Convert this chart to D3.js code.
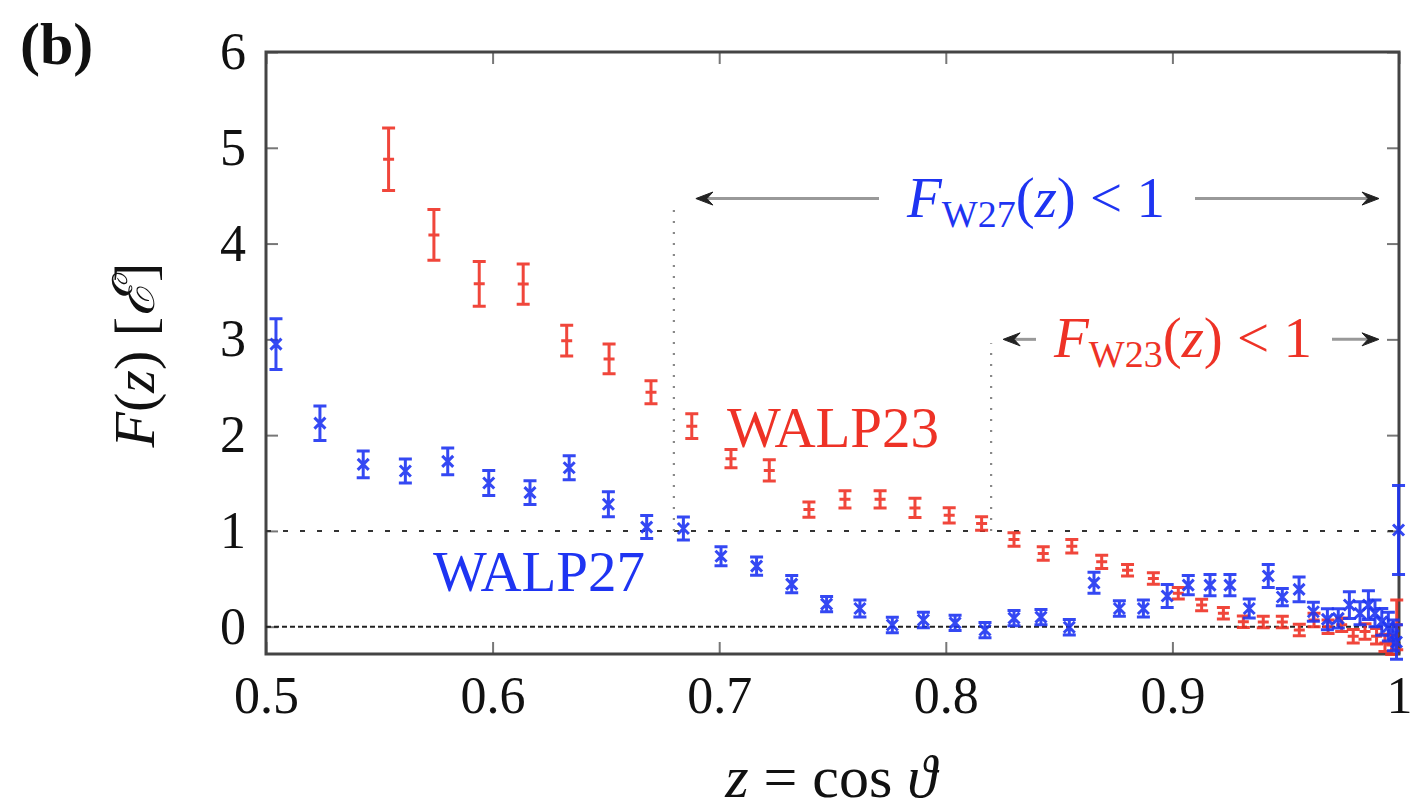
<!DOCTYPE html>
<html>
<head>
<meta charset="utf-8">
<script src="https://cdn.jsdelivr.net/npm/d3@7"></script>
<style>
  html, body { margin: 0; padding: 0; background: #fff; }
  svg { display: block; }
  text { font-family: "Liberation Serif", "DejaVu Serif", serif; }
</style>
</head>
<body>
<svg id="chart" width="1416" height="809"></svg>
<script>
// F(z) for WALP23 and WALP27: z values, means and error half-widths
const walp27Z = [0.5044, 0.5238, 0.5429, 0.5615, 0.5802, 0.5983, 0.6165, 0.6338, 0.6511, 0.6680,
  0.6842, 0.7008, 0.7165, 0.7320, 0.7474, 0.7621, 0.7764, 0.7901, 0.8041, 0.8173,
  0.8301, 0.8420, 0.8545, 0.8654, 0.8766, 0.8872, 0.8977, 0.9070, 0.9166, 0.9254,
  0.9339, 0.9423, 0.9485, 0.9559, 0.9622, 0.9684, 0.9732, 0.9781, 0.9828, 0.9865,
  0.9894, 0.9924, 0.9953, 0.9975, 0.9989, 0.9998];
const walp27F = [2.95, 2.125, 1.695, 1.625, 1.726, 1.50, 1.40, 1.66, 1.278, 1.04,
  1.025, 0.736, 0.632, 0.445, 0.236, 0.19, 0.018, 0.07, 0.04, -0.035,
  0.09, 0.10, -0.006, 0.458, 0.19, 0.19, 0.32, 0.434, 0.434, 0.434,
  0.19, 0.53, 0.31, 0.39, 0.156, 0.077, 0.087, 0.226, 0.14, 0.226,
  0.14, 0.05, 0.0, -0.09, -0.16, 1.01];
const walp27Err = [0.265, 0.18, 0.14, 0.125, 0.14, 0.13, 0.125, 0.125, 0.13, 0.12,
  0.12, 0.10, 0.095, 0.09, 0.08, 0.09, 0.08, 0.08, 0.08, 0.08,
  0.08, 0.08, 0.08, 0.11, 0.08, 0.09, 0.12, 0.10, 0.11, 0.11,
  0.10, 0.12, 0.09, 0.13, 0.10, 0.11, 0.10, 0.14, 0.12, 0.15,
  0.14, 0.14, 0.15, 0.16, 0.18, 0.465];

const walp23Z = [0.5541, 0.5741, 0.5941, 0.6135, 0.6327, 0.6514, 0.6699, 0.6879, 0.7052, 0.7221,
  0.7396, 0.7555, 0.7710, 0.7864, 0.8015, 0.8158, 0.8301, 0.8430, 0.8556, 0.8688,
  0.8802, 0.8916, 0.9026, 0.9129, 0.9225, 0.9313, 0.9401, 0.9485, 0.9560, 0.9625,
  0.9687, 0.9747, 0.9798, 0.9850, 0.9901, 0.9938, 0.9968, 0.9990];
const walp23F = [4.88, 4.09, 3.58, 3.577, 2.986, 2.796, 2.448, 2.094, 1.754, 1.632,
  1.223, 1.33, 1.33, 1.24, 1.163, 1.077, 0.91, 0.765, 0.84, 0.677,
  0.59, 0.504, 0.348, 0.226, 0.14, 0.052, 0.05, 0.05, -0.035, 0.07,
  0.0, 0.02, -0.1, -0.05, -0.1, -0.17, -0.19, 0.02];
const walp23Err = [0.326, 0.265, 0.234, 0.21, 0.16, 0.156, 0.12, 0.13, 0.095, 0.11,
  0.08, 0.09, 0.09, 0.10, 0.08, 0.07, 0.07, 0.07, 0.07, 0.07,
  0.06, 0.06, 0.06, 0.06, 0.06, 0.06, 0.06, 0.06, 0.06, 0.07,
  0.07, 0.07, 0.07, 0.08, 0.08, 0.09, 0.10, 0.26];

const xTicks = [0.5, 0.6, 0.7, 0.8, 0.9, 1.0];
const xTickLabels = ["0.5", "0.6", "0.7", "0.8", "0.9", "1"];
const yTicks = [0, 1, 2, 3, 4, 5, 6];
const yTickLabels = ["0", "1", "2", "3", "4", "5", "6"];

// cut-off annotations: where F first stays below 1, and the height of the arrow
const cutW27 = 0.680, arrowW27 = 4.47;
const cutW23 = 0.820, arrowW23 = 3.0;

const RED = "#ee3226";
const BLUE = "#1e34f2";

const svg = d3.select("#chart");
const x = d3.scaleLinear().domain([0.5, 1.0]).range([266, 1399]);
const y = d3.scaleLinear().domain([-0.285, 6.0]).range([654, 52]);

// frame and inward ticks (drawn first so the data sits on top of the border)
const tick = 12;
const styleTicks = g => {
  g.select(".domain").remove();
  g.selectAll(".tick line").attr("stroke", "#777").attr("stroke-width", 2);
  g.selectAll(".tick text").attr("font-size", 52).attr("fill", "#111")
    .attr("font-family", "Liberation Serif");
};
svg.append("g").attr("transform", `translate(0,${y(-0.285)})`)
  .call(d3.axisBottom(x).tickValues(xTicks).tickSizeInner(-tick).tickSizeOuter(0)
    .tickFormat((d, i) => xTickLabels[i]).tickPadding(22))
  .call(styleTicks);
svg.append("g").attr("transform", `translate(0,${y(6)})`)
  .call(d3.axisTop(x).tickValues(xTicks).tickSizeInner(-tick).tickSizeOuter(0).tickFormat(""))
  .call(styleTicks);
svg.append("g").attr("transform", `translate(${x(0.5)},0)`)
  .call(d3.axisLeft(y).tickValues(yTicks).tickSizeInner(-tick).tickSizeOuter(0)
    .tickFormat((d, i) => yTickLabels[i]).tickPadding(20))
  .call(styleTicks);
svg.append("g").attr("transform", `translate(${x(1)},0)`)
  .call(d3.axisRight(y).tickValues(yTicks).tickSizeInner(-tick).tickSizeOuter(0).tickFormat(""))
  .call(styleTicks);
svg.append("rect")
  .attr("x", x(0.5)).attr("y", y(6))
  .attr("width", x(1) - x(0.5)).attr("height", y(-0.285) - y(6))
  .attr("fill", "none").attr("stroke", "#444").attr("stroke-width", 3);

// reference lines at F = 1 and F = 0
svg.append("line")
  .attr("x1", x(0.5)).attr("x2", x(1)).attr("y1", y(1)).attr("y2", y(1))
  .attr("stroke", "#333").attr("stroke-width", 2).attr("stroke-dasharray", "5,12");
svg.append("line")
  .attr("x1", x(0.5)).attr("x2", x(1)).attr("y1", y(0)).attr("y2", y(0))
  .attr("stroke", "#222").attr("stroke-width", 2).attr("stroke-dasharray", "5,3");

// dotted verticals marking the cut-offs
[[cutW27, arrowW27], [cutW23, arrowW23]].forEach(([zc, top]) => {
  svg.append("line")
    .attr("x1", x(zc)).attr("x2", x(zc)).attr("y1", y(1)).attr("y2", y(top) + 4)
    .attr("stroke", "#888").attr("stroke-width", 2.2).attr("stroke-dasharray", "2,9");
});

// error-bar series
function drawSeries(zs, fs, es, color, marker) {
  const g = svg.append("g").attr("stroke", color).attr("stroke-width", 3).attr("fill", "none")
    .attr("stroke-opacity", 0.9);
  const cap = 6.5;
  zs.forEach((z, i) => {
    const cx = x(z), cy = y(fs[i]);
    const yt = y(fs[i] + es[i]), yb = y(fs[i] - es[i]);
    const p = d3.path();
    p.moveTo(cx, yt); p.lineTo(cx, yb);
    p.moveTo(cx - cap, yt); p.lineTo(cx + cap, yt);
    p.moveTo(cx - cap, yb); p.lineTo(cx + cap, yb);
    const m = 5.5;
    if (marker === "x") {
      p.moveTo(cx - m, cy - m); p.lineTo(cx + m, cy + m);
      p.moveTo(cx - m, cy + m); p.lineTo(cx + m, cy - m);
    } else {
      p.moveTo(cx - m, cy); p.lineTo(cx + m, cy);
    }
    g.append("path").attr("d", p.toString());
  });
}
drawSeries(walp23Z, walp23F, walp23Err, RED, "+");
drawSeries(walp27Z, walp27F, walp27Err, BLUE, "x");

// arrows with the F(z) < 1 labels
function arrowHead(px, py, dir) {
  const p = d3.path();
  p.moveTo(px, py);
  p.lineTo(px - dir * 17, py - 6.5);
  p.lineTo(px - dir * 11, py);
  p.lineTo(px - dir * 17, py + 6.5);
  p.closePath();
  svg.append("path").attr("d", p.toString()).attr("fill", "#222").attr("stroke", "#222")
    .attr("stroke-width", 1);
}
function rangeArrow(x0, x1, yy, gapL, gapR) {
  svg.append("line").attr("x1", x0 + 4).attr("x2", gapL).attr("y1", yy).attr("y2", yy)
    .attr("stroke", "#999").attr("stroke-width", 3);
  svg.append("line").attr("x1", gapR).attr("x2", x1 - 4).attr("y1", yy).attr("y2", yy)
    .attr("stroke", "#999").attr("stroke-width", 3);
  arrowHead(x0, yy, -1);
  arrowHead(x1, yy, 1);
}
rangeArrow(x(cutW27) + 22, x(1) - 20, y(arrowW27), 879, 1195);
rangeArrow(x(cutW23) + 12, x(1) - 20, y(arrowW23), 1036, 1332);

function condLabel(cx, baseY, sub, color) {
  const t = svg.append("text").attr("x", cx).attr("y", baseY)
    .attr("text-anchor", "middle").attr("font-size", 57).attr("fill", color);
  t.append("tspan").attr("font-style", "italic").text("F");
  t.append("tspan").attr("font-size", 38).attr("dy", 10).text("W" + sub);
  t.append("tspan").attr("dy", -10).text("(");
  t.append("tspan").attr("font-style", "italic").text("z");
  t.append("tspan").text(") < 1");
}
condLabel(1036, y(arrowW27) + 18, "27", BLUE);
condLabel(1183, y(arrowW23) + 18, "23", RED);

// series names
svg.append("text").attr("x", 833).attr("y", 447).attr("text-anchor", "middle")
  .attr("font-size", 57).attr("fill", RED).text("WALP23");
svg.append("text").attr("x", 539).attr("y", 591).attr("text-anchor", "middle")
  .attr("font-size", 57).attr("fill", BLUE).text("WALP27");

// panel tag and axis titles
svg.append("text").attr("x", 20).attr("y", 64).attr("font-size", 60)
  .attr("font-weight", "bold").attr("fill", "#111").text("(b)");

const yl = svg.append("text").attr("transform", "translate(154,355) rotate(-90)")
  .attr("text-anchor", "middle").attr("font-size", 58).attr("fill", "#111");
yl.append("tspan").attr("font-style", "italic").text("F");
yl.append("tspan").text("(");
yl.append("tspan").attr("font-style", "italic").text("z");
yl.append("tspan").text(") [");
yl.append("tspan").attr("font-style", "italic").text("\u2130");
yl.append("tspan").text("]");

const xl = svg.append("text").attr("x", 831).attr("y", 797)
  .attr("text-anchor", "middle").attr("font-size", 60).attr("fill", "#111");
xl.append("tspan").attr("font-style", "italic").text("z");
xl.append("tspan").text(" = cos ");
xl.append("tspan").attr("font-style", "italic").text("\u03D1");
</script>
</body>
</html>
